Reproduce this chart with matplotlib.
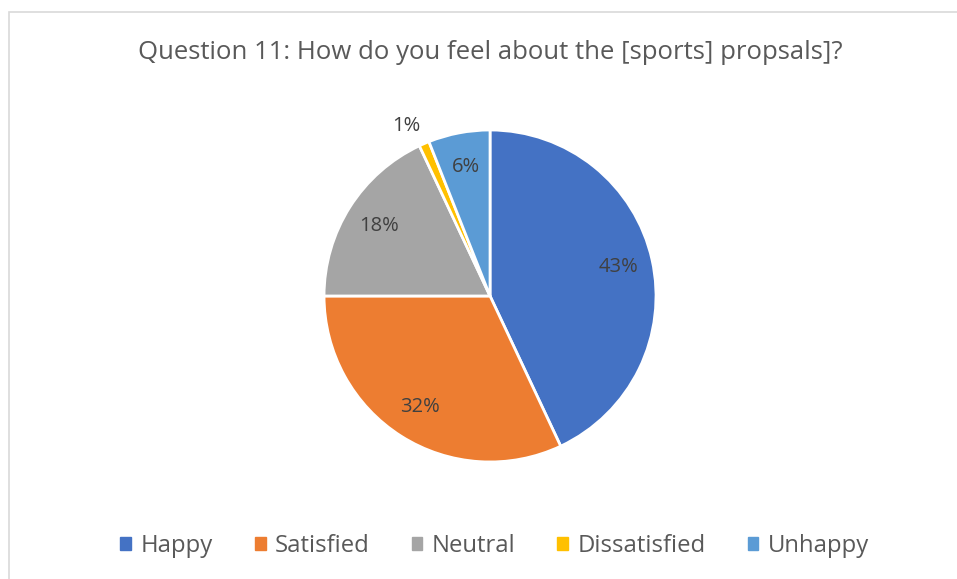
import numpy as np
import matplotlib.pyplot as plt
from matplotlib.patches import Rectangle

plt.rcParams['font.family'] = ['Open Sans', 'DejaVu Sans']

title = "Question 11: How do you feel about the [sports] propsals]?"
labels = ["Happy", "Satisfied", "Neutral", "Dissatisfied", "Unhappy"]
values = [43, 32, 18, 1, 6]
colors = ["#4472C4", "#ED7D31", "#A5A5A5", "#FFC000", "#5B9BD5"]

fig = plt.figure(figsize=(9.57, 5.79), dpi=100)

# light chart frame
fig.patches.append(Rectangle((9 / 957, -0.01), 1.01, (579 - 12) / 579 + 0.01,
                             transform=fig.transFigure, fill=False,
                             edgecolor="#D9D9D9", linewidth=1.2))

ax = fig.add_axes([0.3386, 0.2021, 0.3469, 0.5734])
wedges, texts, autotexts = ax.pie(values, colors=colors, startangle=90, counterclock=False,
                                  autopct="%1.0f%%", pctdistance=0.79,
                                  wedgeprops=dict(edgecolor="white", linewidth=2),
                                  textprops=dict(color="#404040", fontsize=14.5))
ax.set_xlim(-1, 1)
ax.set_ylim(-1, 1)

# small slice label sits outside
for w, t, v in zip(wedges, autotexts, values):
    if v < 3:
        ang = np.deg2rad((w.theta1 + w.theta2) / 2 + 2.5)
        t.set_position((1.15 * np.cos(ang), 1.14 * np.sin(ang)))

fig.text(0.512, 0.91, title, ha="center", va="center", fontsize=18.5, color="#595959")

handles = [Rectangle((0, 0), 1, 1, color=c) for c in colors]
fig.legend(handles, labels, loc="center", bbox_to_anchor=(0.517, 0.057), ncol=5,
           frameon=False, fontsize=17.2, handlelength=0.45, handleheight=0.45,
           handletextpad=0.4, columnspacing=1.75, labelcolor="#595959")

plt.savefig("out.png", dpi=100)
